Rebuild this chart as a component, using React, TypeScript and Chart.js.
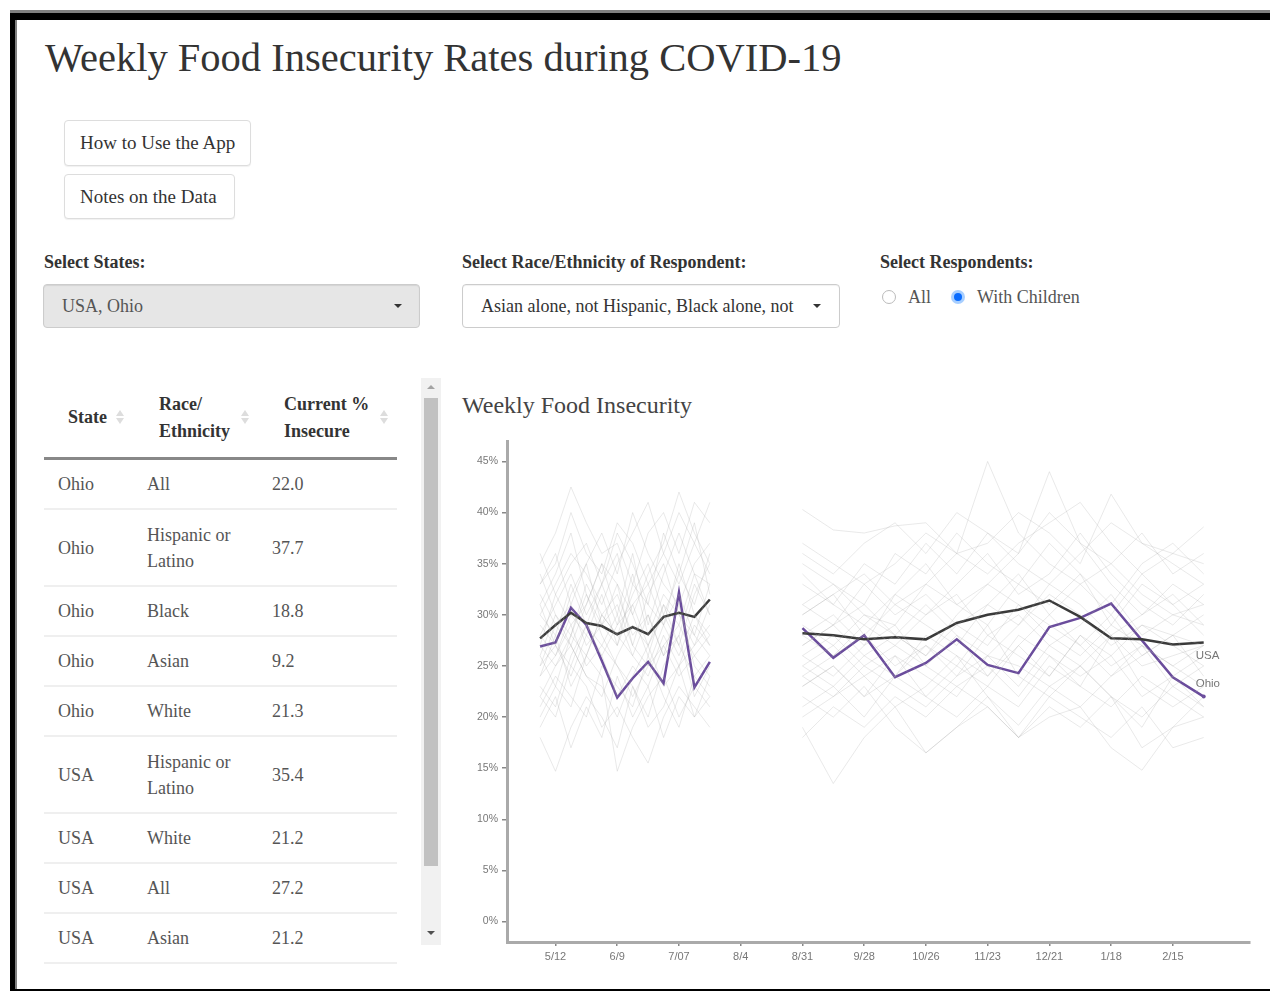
import React, { useEffect, useRef } from 'react';
import { Chart, registerables } from 'chart.js';

Chart.register(...registerables);

// ---------- DATA ----------
// x = days since 2020-05-12
const TICK_DAYS = [0, 28, 56, 84, 112, 140, 168, 196, 224, 252, 280];
const TICK_LABELS = ['5/12', '6/9', '7/07', '8/4', '8/31', '9/28', '10/26', '11/23', '12/21', '1/18', '2/15'];
const Y_TICKS = [0, 5, 10, 15, 20, 25, 30, 35, 40, 45];

const WEEKS_PHASE1 = [-7, 0, 7, 14, 21, 28, 35, 42, 49, 56, 63, 70];
const WEEKS_PHASE2 = [112, 126, 140, 154, 168, 182, 196, 210, 224, 238, 252, 266, 280, 294];

const USA_PHASE1 = [27.7, 29.0, 30.2, 29.2, 28.9, 28.1, 28.8, 28.1, 29.8, 30.2, 29.8, 31.5];
const USA_PHASE2 = [28.2, 28.0, 27.6, 27.8, 27.6, 29.2, 30.0, 30.5, 31.4, 29.8, 27.7, 27.6, 27.1, 27.3];

const OHIO_PHASE1 = [26.9, 27.3, 30.7, 29.0, 25.5, 21.9, 23.8, 25.4, 23.3, 32.2, 22.9, 25.4];
const OHIO_PHASE2 = [28.7, 25.8, 28.0, 23.9, 25.3, 27.6, 25.1, 24.3, 28.8, 29.7, 31.1, 27.5, 23.9, 22.0];

const OTHER_STATES_PHASE1 = [
  [35, 38, 42.5, 39, 36, 37, 33, 38, 40, 36, 41, 39],
  [18, 14.7, 19, 22, 20, 17, 23, 19, 21, 25, 20, 22],
  [30, 33, 36, 34, 31, 35, 38, 41, 36, 33, 37, 34],
  [25, 27, 24, 28, 26, 22, 25, 23, 27, 29, 26, 24],
  [28, 31, 34, 30, 33, 29, 31, 27, 30, 34, 31, 36],
  [22, 20, 25, 23, 19, 21, 18, 15.5, 20, 23, 21, 19],
  [32, 29, 27, 31, 35, 33, 30, 34, 37, 42, 38, 35],
  [27, 25, 28, 26, 30, 32, 28, 30, 26, 28, 33, 30],
  [20, 23, 21, 26, 24, 14.7, 19, 22, 24, 20, 23, 21],
  [33, 36, 31, 35, 38, 34, 40, 36, 33, 31, 35, 37],
  [24, 26, 29, 25, 27, 30, 26, 24, 28, 25, 27, 29],
  [29, 27, 32, 35, 29, 27, 33, 31, 29, 35, 30, 27],
  [26, 30, 27, 24, 22, 26, 29, 27, 31, 27, 24, 26],
  [31, 34, 38, 32, 29, 31, 27, 32, 35, 30, 28, 33],
  [21, 24, 22, 20, 25, 23, 21, 26, 22, 19, 24, 22],
  [36, 32, 35, 37, 33, 38, 35, 31, 38, 34, 39, 32],
  [23, 21, 26, 29, 27, 25, 23, 20, 25, 28, 22, 25],
  [28, 26, 30, 28, 32, 27, 31, 33, 29, 26, 30, 28],
  [19, 22, 17, 21, 18, 24, 20, 23, 18, 22, 20, 24],
  [30, 28, 33, 29, 26, 29, 34, 28, 32, 30, 27, 31],
  [25, 29, 31, 27, 29, 33, 27, 25, 29, 32, 28, 26],
  [34, 30, 28, 33, 30, 28, 32, 35, 30, 27, 32, 35],
  [27, 32, 29, 31, 35, 30, 36, 29, 34, 38, 34, 30],
  [22, 25, 27, 24, 23, 20, 24, 27, 23, 25, 29, 27],
  [31, 27, 25, 29, 33, 36, 30, 26, 31, 29, 34, 33],
  [26, 23, 28, 32, 28, 25, 22, 25, 27, 24, 26, 28],
  [33, 35, 40, 36, 34, 39, 37, 33, 36, 40, 37, 41],
  [24, 28, 23, 26, 30, 28, 26, 30, 26, 31, 25, 23],
];

const OTHER_STATES_PHASE2 = [
  [40.3, 38.3, 38, 38.7, 39, 36, 37, 40, 38, 35, 41.8, 37, 36, 38.6],
  [19, 13.5, 18, 21, 16.5, 19, 22, 18, 20, 21, 17, 14.8, 19, 20],
  [30, 32, 34, 31, 33, 36, 45, 38, 35, 33, 30, 34, 31, 33],
  [25, 27, 24, 26, 22, 25, 23, 27, 24, 28, 26, 22, 24, 21],
  [28, 30, 27, 32, 35, 31, 33, 36, 44, 37, 33, 30, 32, 29],
  [22, 20, 23, 19, 16.5, 19, 21, 18, 22, 20, 18, 21, 17, 18],
  [33, 31, 35, 33, 37, 34, 38, 35, 33, 36, 39, 37, 35, 33],
  [27, 29, 26, 28, 31, 28, 26, 29, 32, 30, 27, 29, 28, 30],
  [20, 22, 24, 21, 23, 26, 22, 19.2, 23, 25, 22, 20, 23, 21],
  [35, 33, 31, 36, 34, 38, 35, 33, 37, 34, 31, 35, 37, 34],
  [24, 26, 28, 25, 27, 24, 28, 26, 24, 28, 25, 27, 23, 25],
  [29, 27, 30, 28, 26, 30, 33, 31, 28, 26, 29, 27, 25, 27],
  [26, 24, 27, 29, 25, 28, 24, 27, 30, 27, 24, 26, 28, 24],
  [31, 29, 33, 30, 32, 29, 31, 34, 30, 33, 35, 32, 30, 31],
  [21, 23, 20, 24, 22, 20, 23, 21, 25, 23, 21, 24, 22, 20],
  [37, 35, 33, 35, 38, 36, 34, 37, 39, 41, 37, 34, 36, 35],
  [23, 25, 22, 24, 27, 25, 29, 24, 22, 25, 28, 23, 21, 23],
  [28, 26, 29, 27, 30, 32, 28, 30, 27, 29, 32, 28, 30, 29],
  [18, 21, 19, 22, 20, 23, 21, 18, 21, 19, 22, 17, 19, 22],
  [30, 32, 28, 31, 29, 27, 31, 29, 33, 31, 28, 30, 33, 31],
  [25, 23, 26, 24, 28, 26, 24, 28, 26, 24, 26, 29, 27, 25],
  [34, 31, 29, 32, 30, 33, 36, 32, 34, 38, 34, 31, 29, 32],
  [27, 29, 31, 28, 26, 29, 27, 31, 29, 27, 30, 26, 28, 27],
  [23, 25, 22, 26, 24, 22, 26, 23, 27, 25, 22, 19, 24, 26],
  [31, 33, 30, 29, 33, 31, 29, 33, 31, 34, 29, 33, 31, 28],
  [26, 28, 25, 23, 21, 24, 26, 25, 23, 21, 24, 27, 25, 23],
  [36, 34, 37, 39, 36, 40, 38, 36, 40, 37, 35, 38, 34, 36],
  [24, 22, 25, 27, 25, 23, 25, 22, 26, 23, 28, 25, 26, 27],
];

const TABLE_STATE = ['Ohio', 'Ohio', 'Ohio', 'Ohio', 'Ohio', 'USA', 'USA', 'USA', 'USA'];
const TABLE_RACE = ['All', 'Hispanic or Latino', 'Black', 'Asian', 'White', 'Hispanic or Latino', 'White', 'All', 'Asian'];
const TABLE_PCT = ['22.0', '37.7', '18.8', '9.2', '21.3', '35.4', '21.2', '27.2', '21.2'];

// ---------- HELPERS ----------
const pts = (xs: number[], ys: number[]) => xs.map((x, i) => ({ x, y: ys[i] }));

const SERIF = '"Liberation Serif", "Times New Roman", serif';
const SANS = '"Liberation Sans", Arial, sans-serif';

const endLabels = {
  id: 'endLabels',
  afterDatasetsDraw(chart: any) {
    const ctx = chart.ctx;
    chart.data.datasets.forEach((ds: any, i: number) => {
      if (!ds.endLabel) return;
      const meta = chart.getDatasetMeta(i);
      const pt = meta.data[meta.data.length - 1];
      if (!pt) return;
      ctx.save();
      ctx.font = '11.5px ' + SANS;
      ctx.fillStyle = '#777';
      ctx.textBaseline = 'middle';
      ctx.textAlign = 'left';
      ctx.fillText(ds.endLabel, pt.x - 8, pt.y + ds.endLabelDy);
      ctx.restore();
    });
  },
};

function FoodChart() {
  const ref = useRef<HTMLCanvasElement | null>(null);
  useEffect(() => {
    if (!ref.current) return;
    const gray = (data: any) => ({
      data,
      borderColor: 'rgba(170,170,170,0.26)',
      borderWidth: 1,
      pointRadius: 0,
      tension: 0,
    });
    const datasets: any[] = [];
    OTHER_STATES_PHASE1.forEach((s) => datasets.push(gray(pts(WEEKS_PHASE1, s))));
    OTHER_STATES_PHASE2.forEach((s) => datasets.push(gray(pts(WEEKS_PHASE2, s))));
    datasets.push({ data: pts(WEEKS_PHASE1, USA_PHASE1), borderColor: '#3a3a3a', borderWidth: 2.5, pointRadius: 0, tension: 0 });
    datasets.push({ data: pts(WEEKS_PHASE2, USA_PHASE2), borderColor: '#3a3a3a', borderWidth: 2.5, pointRadius: 0, tension: 0, endLabel: 'USA', endLabelDy: 13 });
    datasets.push({ data: pts(WEEKS_PHASE1, OHIO_PHASE1), borderColor: '#6a4c9c', borderWidth: 2.5, pointRadius: 0, tension: 0 });
    datasets.push({
      data: pts(WEEKS_PHASE2, OHIO_PHASE2),
      borderColor: '#6a4c9c',
      backgroundColor: '#6a4c9c',
      borderWidth: 2.5,
      pointRadius: (c: any) => (c.dataIndex === OHIO_PHASE2.length - 1 ? 2 : 0),
      pointBorderWidth: 0,
      tension: 0,
      endLabel: 'Ohio',
      endLabelDy: -13,
    });

    const chart = new Chart(ref.current, {
      type: 'line',
      data: { datasets },
      plugins: [endLabels],
      options: {
        animation: false,
        responsive: false,
        events: [],
        layout: { padding: { top: 11, right: 20, bottom: 0, left: 0 } },
        plugins: { legend: { display: false }, tooltip: { enabled: false }, title: { display: false } },
        scales: {
          x: {
            type: 'linear',
            min: -22,
            max: 315,
            afterBuildTicks: (scale: any) => {
              scale.ticks = TICK_DAYS.map((v) => ({ value: v }));
            },
            afterFit: (scale: any) => {
              scale.height = 48;
            },
            ticks: {
              autoSkip: false,
              maxRotation: 0,
              padding: 4,
              color: '#777',
              font: { family: SANS, size: 11 },
              callback: (value: any) => {
                const i = TICK_DAYS.indexOf(Number(value));
                return i >= 0 ? TICK_LABELS[i] : '';
              },
            },
            grid: { display: true, drawOnChartArea: false, drawTicks: true, tickLength: 4, color: '#888', lineWidth: 1.5 },
            border: { display: true, color: '#aaa', width: 3 },
          },
          y: {
            type: 'linear',
            min: -2,
            max: 47,
            afterBuildTicks: (scale: any) => {
              scale.ticks = Y_TICKS.map((v) => ({ value: v }));
            },
            afterFit: (scale: any) => {
              scale.width = 57;
            },
            ticks: {
              padding: 4,
              color: '#777',
              font: { family: SANS, size: 10.5 },
              callback: (value: any) => value + '%',
            },
            grid: { display: true, drawOnChartArea: false, drawTicks: true, tickLength: 5, color: '#888', lineWidth: 1.5 },
            border: { display: true, color: '#aaa', width: 3 },
          },
        },
      } as any,
    });
    return () => chart.destroy();
  }, []);
  return <canvas ref={ref} width={820} height={560} style={{ position: 'absolute', left: 450, top: 430, width: 820, height: 560 }} />;
}

const abs = (s: any) => ({ position: 'absolute', ...s });

function SortIcon({ x, y }: { x: number; y: number }) {
  return (
    <div style={abs({ left: x - 4, top: y - 8, width: 8, height: 16 })}>
      <div style={abs({ left: 0, top: 1, width: 0, height: 0, borderLeft: '4px solid transparent', borderRight: '4px solid transparent', borderBottom: '6px solid #ddd' })} />
      <div style={abs({ left: 0, top: 9, width: 0, height: 0, borderLeft: '4px solid transparent', borderRight: '4px solid transparent', borderTop: '6px solid #ddd' })} />
    </div>
  );
}

function Caret({ x, y }: { x: number; y: number }) {
  return <div style={abs({ left: x - 4, top: y - 2, width: 0, height: 0, borderLeft: '4px solid transparent', borderRight: '4px solid transparent', borderTop: '4px solid #333' })} />;
}

export default function App() {
  const btn = {
    boxSizing: 'border-box',
    border: '1px solid #ddd',
    borderRadius: 4,
    background: '#fff',
    boxShadow: '0 1px 1px rgba(0,0,0,0.06)',
    fontSize: 19,
    color: '#333',
    paddingLeft: 15,
    whiteSpace: 'nowrap',
  };
  const label = { fontSize: 18, fontWeight: 'bold', color: '#333', lineHeight: '24px', whiteSpace: 'nowrap' };
  return (
    <div style={{ position: 'absolute', left: 0, top: 0, width: 1270, height: 991, background: '#fff', overflow: 'hidden', fontFamily: SERIF, color: '#333' }}>
      {/* frame */}
      <div style={abs({ left: 10, top: 10, width: 1260, height: 3, background: '#808080' })} />
      <div style={abs({ left: 10, top: 13, width: 1260, height: 7, background: '#000' })} />
      <div style={abs({ left: 10, top: 13, width: 5, height: 978, background: '#000' })} />
      <div style={abs({ left: 15, top: 20, width: 2, height: 969, background: '#808080' })} />
      <div style={abs({ left: 10, top: 989, width: 1260, height: 2, background: '#000', zIndex: 5 })} />

      <div style={abs({ left: 45, top: 38, fontSize: 40.5, lineHeight: '40px', color: '#333', whiteSpace: 'nowrap' })}>
        Weekly Food Insecurity Rates during COVID-19
      </div>

      <div style={abs({ ...btn, left: 64, top: 120, width: 187, height: 46, lineHeight: '44px' })}>How to Use the App</div>
      <div style={abs({ ...btn, left: 64, top: 174, width: 171, height: 45, lineHeight: '43px' })}>Notes on the Data</div>

      <div style={abs({ ...label, left: 44, top: 250 })}>Select States:</div>
      <div style={abs({ ...label, left: 462, top: 250 })}>Select Race/Ethnicity of Respondent:</div>
      <div style={abs({ ...label, left: 880, top: 250 })}>Select Respondents:</div>

      <div style={abs({ left: 43, top: 284, width: 377, height: 44, boxSizing: 'border-box', background: '#e6e6e6', border: '1px solid #ccc', borderRadius: 4, boxShadow: 'inset 0 1px 1px rgba(0,0,0,0.08)', paddingLeft: 18, fontSize: 18, lineHeight: '42px', color: '#555' })}>
        USA, Ohio
      </div>
      <Caret x={398} y={306} />
      <div style={abs({ left: 462, top: 284, width: 378, height: 44, boxSizing: 'border-box', background: '#fff', border: '1px solid #ccc', borderRadius: 4, boxShadow: 'inset 0 1px 1px rgba(0,0,0,0.06)', paddingLeft: 18, fontSize: 18, lineHeight: '42px', color: '#333', whiteSpace: 'nowrap', overflow: 'hidden' })}>
        <span style={{ display: 'inline-block', width: 330, overflow: 'hidden', verticalAlign: 'top' }}>Asian alone, not Hispanic, Black alone, not</span>
      </div>
      <Caret x={817} y={306} />

      {/* radios */}
      <div style={abs({ left: 882, top: 290, width: 14, height: 14, boxSizing: 'border-box', border: '1px solid #bbb', borderRadius: '50%', background: '#fff' })} />
      <div style={abs({ left: 908, top: 285, fontSize: 18, lineHeight: '24px', color: '#555' })}>All</div>
      <div style={abs({ left: 951, top: 290, width: 14, height: 14, borderRadius: '50%', background: '#a8cfff' })} />
      <div style={abs({ left: 954, top: 293, width: 8, height: 8, borderRadius: '50%', background: '#0a6cff' })} />
      <div style={abs({ left: 977, top: 285, fontSize: 18, lineHeight: '24px', color: '#555', whiteSpace: 'nowrap' })}>With Children</div>

      {/* table header */}
      <div style={abs({ ...label, left: 68, top: 405 })}>State</div>
      <SortIcon x={120} y={417} />
      <div style={abs({ ...label, left: 159, top: 390.5, lineHeight: '27px' })}>Race/<br />Ethnicity</div>
      <SortIcon x={245} y={417} />
      <div style={abs({ ...label, left: 284, top: 390.5, lineHeight: '27px' })}>Current %<br />Insecure</div>
      <SortIcon x={384} y={417} />
      <div style={abs({ left: 44, top: 457, width: 353, height: 3, background: '#888' })} />

      {/* table body */}
      <div style={abs({ left: 44, top: 460, width: 353, height: 505, overflow: 'hidden' })}>
        {TABLE_STATE.map((st, i) => {
          const two = TABLE_RACE[i].length > 12;
          return (
            <div key={i} style={{ display: 'flex', alignItems: 'center', paddingTop: 12, paddingBottom: 11, borderBottom: '2px solid #efefef', fontSize: 18, color: '#555', lineHeight: two ? '26px' : '25px' }}>
              <div style={{ width: 14 }} />
              <div style={{ width: 89 }}>{st}</div>
              <div style={{ width: 125 }}>{TABLE_RACE[i]}</div>
              <div>{TABLE_PCT[i]}</div>
            </div>
          );
        })}
      </div>

      {/* scrollbar */}
      <div style={abs({ left: 421, top: 378, width: 20, height: 567, background: '#f1f1f1' })} />
      <div style={abs({ left: 424, top: 398, width: 14, height: 468, background: '#c1c1c1' })} />
      <div style={abs({ left: 427, top: 385, width: 0, height: 0, borderLeft: '4px solid transparent', borderRight: '4px solid transparent', borderBottom: '4px solid #a3a3a3' })} />
      <div style={abs({ left: 427, top: 931, width: 0, height: 0, borderLeft: '4px solid transparent', borderRight: '4px solid transparent', borderTop: '4px solid #505050' })} />

      {/* chart */}
      <div style={abs({ left: 462, top: 391, fontSize: 24, lineHeight: '28px', color: '#444', whiteSpace: 'nowrap' })}>Weekly Food Insecurity</div>
      <FoodChart />
    </div>
  );
}
